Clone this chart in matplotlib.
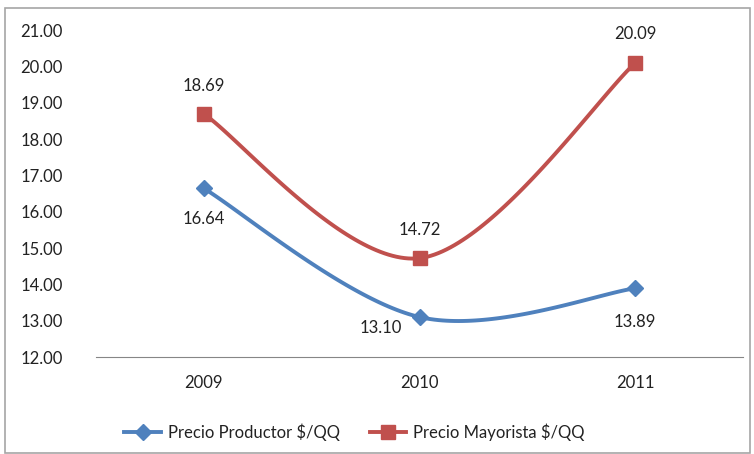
import numpy as np
import matplotlib.pyplot as plt
from matplotlib.patches import Rectangle

years = ["2009", "2010", "2011"]
productor = [16.64, 13.10, 13.89]
mayorista = [18.69, 14.72, 20.09]
yticks = [12, 13, 14, 15, 16, 17, 18, 19, 20, 21]

BLUE = "#4F81BD"
RED = "#C0504D"
plt.rcParams["font.family"] = ["Lato", "DejaVu Sans"]


def smooth(xs, ys, n=60):
    # Excel-like smoothed line: cubic bezier with catmull-rom control points
    pts = np.column_stack([xs, ys]).astype(float)
    out = []
    for i in range(len(pts) - 1):
        p0 = pts[max(i - 1, 0)]
        p1 = pts[i]
        p2 = pts[i + 1]
        p3 = pts[min(i + 2, len(pts) - 1)]
        c1 = p1 + (p2 - p0) / 6
        c2 = p2 - (p3 - p1) / 6
        t = np.linspace(0, 1, n)[:, None]
        seg = ((1 - t) ** 3) * p1 + 3 * ((1 - t) ** 2) * t * c1 + 3 * (1 - t) * t ** 2 * c2 + t ** 3 * p2
        out.append(seg)
    curve = np.vstack(out)
    return curve[:, 0], curve[:, 1]


fig = plt.figure(figsize=(7.54, 4.54), dpi=100)
fig.patches.append(Rectangle((5 / 754, 0.002), 745 / 754, 1 - 8 / 454 - 0.002,
                             transform=fig.transFigure, fill=False,
                             edgecolor="#A6A6A6", linewidth=1.2))
ax = fig.add_axes([96 / 754, 1 - 357 / 454, 647 / 754, 327 / 454])

x = np.arange(len(years))
for vals, color, marker, ms, label in [
    (productor, BLUE, "D", 8, "Precio Productor $/QQ"),
    (mayorista, RED, "s", 10, "Precio Mayorista $/QQ"),
]:
    sx, sy = smooth(x, vals)
    ax.plot(sx, sy, color=color, linewidth=2.8, solid_capstyle="round")
    ax.plot(x, vals, linestyle="none", marker=marker, markersize=ms, color=color)
    ax.plot([], [], color=color, linewidth=2.8, marker=marker, markersize=ms, label=label)

# data labels
offsets_p = [(0, -22), (-28, -8), (0, -24)]
offsets_m = [(0, 20), (0, 20), (0, 21)]
for i in range(len(years)):
    ax.annotate(f"{productor[i]:.2f}", (x[i], productor[i]), xytext=offsets_p[i],
                textcoords="offset points", ha="center", va="center", fontsize=12, color="#222222")
    ax.annotate(f"{mayorista[i]:.2f}", (x[i], mayorista[i]), xytext=offsets_m[i],
                textcoords="offset points", ha="center", va="center", fontsize=12, color="#222222")

ax.set_xlim(-0.5, 2.5)
ax.set_ylim(12, 21)
ax.set_yticks(yticks)
ax.set_yticklabels([f"{v:.2f}" for v in yticks])
ax.set_xticks(x)
ax.set_xticklabels(years)
ax.tick_params(axis="y", length=0, pad=24, labelsize=12, labelcolor="#222222")
ax.tick_params(axis="x", length=0, pad=13, labelsize=12, labelcolor="#222222")
for s in ["left", "right", "top"]:
    ax.spines[s].set_visible(False)
ax.spines["bottom"].set_color("#868686")
ax.patch.set_alpha(0)

fig.legend(loc="center", bbox_to_anchor=(0.47, 1 - 432 / 454), ncol=2, frameon=False,
           fontsize=12, handlelength=2.2, columnspacing=1.8, handletextpad=0.4,
           labelcolor="#222222")

fig.savefig("out.png", dpi=100)
